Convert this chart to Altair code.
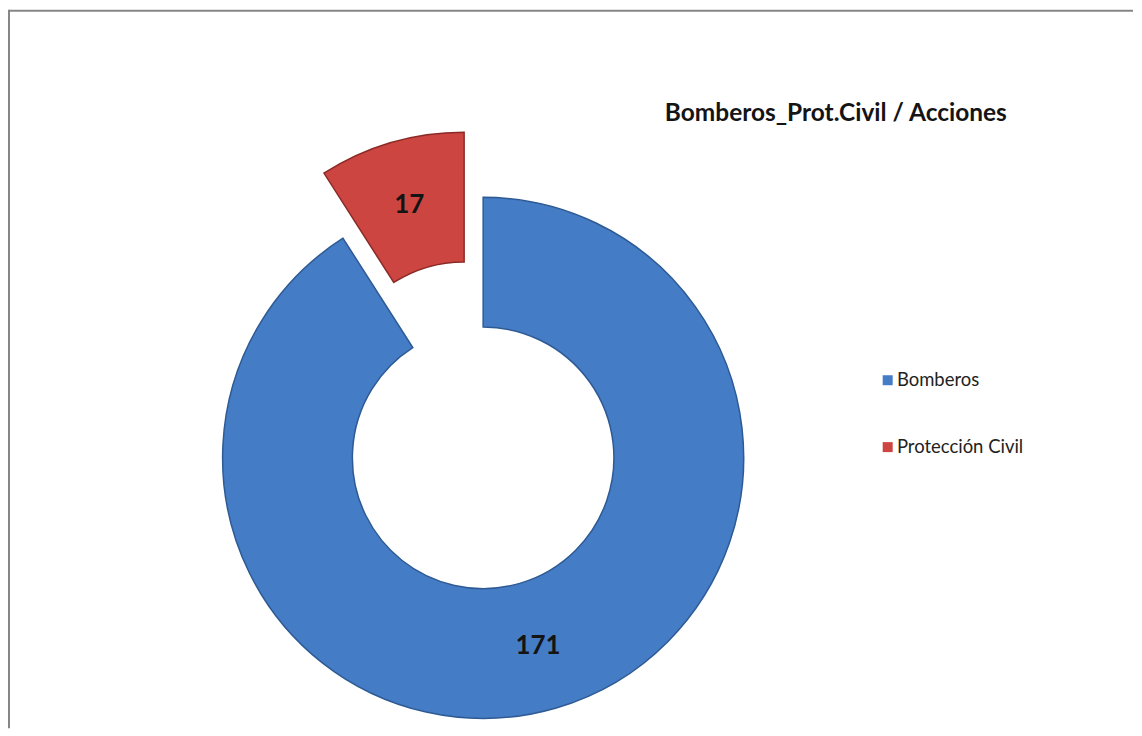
import altair as alt
import pandas as pd

# ---- data ----
categorias = ["Bomberos", "Protección Civil"]
valores = [171, 17]
orden = [1, 2]
titulo = "Bomberos_Prot.Civil / Acciones"

colores = ["#457CC6", "#CD4541"]
bordes = ["#2E5A94", "#8A2A26"]

df = pd.DataFrame({"categoria": categorias, "valor": valores, "orden": orden})

# ---- layout constants (styles / geometry) ----
W, H = 1126, 720
CX, CY = 475, 449
R_IN, R_OUT = 131, 261
EXPLODE = 68
LABEL_R = 196
FONT = "Lato"

base = (
    alt.Chart(df)
    .transform_joinaggregate(total="sum(valor)")
    .transform_window(cum="sum(valor)", sort=[alt.SortField("orden")], frame=[None, 0])
    .transform_calculate(
        t0="2*PI*(datum.cum - datum.valor)/datum.total",
        t1="2*PI*datum.cum/datum.total",
    )
    .transform_calculate(
        mid="(datum.t0 + datum.t1)/2",
        ex=f"datum.categoria == 'Protección Civil' ? {EXPLODE} : 0",
    )
    .transform_calculate(
        cx=f"{CX} + datum.ex*sin(datum.mid)",
        cy=f"{CY} - datum.ex*cos(datum.mid)",
    )
    .transform_calculate(
        lx=f"datum.cx + {LABEL_R}*sin(datum.mid)",
        ly=f"datum.cy - {LABEL_R}*cos(datum.mid)",
    )
)

arcs = base.mark_arc(innerRadius=R_IN, outerRadius=R_OUT, strokeWidth=1.5).encode(
    x=alt.X("cx:Q", scale=None, axis=None),
    y=alt.Y("cy:Q", scale=None, axis=None),
    theta=alt.Theta("t0:Q", scale=None),
    theta2="t1:Q",
    color=alt.Color(
        "categoria:N",
        scale=alt.Scale(domain=categorias, range=colores),
        legend=alt.Legend(
            title=None,
            orient="none",
            legendX=871,
            legendY=362,
            symbolType="square",
            symbolSize=100,
            symbolStrokeWidth=0,
            labelFont=FONT,
            labelFontSize=18.5,
            labelColor="#222222",
            labelOffset=0,
            rowPadding=48,
        ),
    ),
    stroke=alt.Stroke("categoria:N", scale=alt.Scale(domain=categorias, range=bordes), legend=None),
)

labels = base.mark_text(
    font=FONT, fontSize=26, fontWeight="bold", color="#141414", baseline="middle", align="center"
).encode(
    x=alt.X("lx:Q", scale=None, axis=None),
    y=alt.Y("ly:Q", scale=None, axis=None),
    text=alt.Text("valor:Q"),
)

title_layer = alt.Chart(pd.DataFrame({"t": [titulo]})).mark_text(
    font=FONT, fontSize=24.5, fontWeight="bold", color="#141414", align="left", baseline="middle"
).encode(
    x=alt.value(657),
    y=alt.value(105),
    text="t:N",
)

border_left = alt.Chart(pd.DataFrame({"a": [0]})).mark_rule(color="#868686", strokeWidth=2).encode(
    x=alt.value(0), y=alt.value(0), y2=alt.value(H)
)
border_top = alt.Chart(pd.DataFrame({"a": [0]})).mark_rule(color="#868686", strokeWidth=2).encode(
    x=alt.value(0), x2=alt.value(W), y=alt.value(1)
)

chart = (
    alt.layer(arcs, labels, title_layer, border_left, border_top)
    .properties(width=W, height=H, padding=0, background="white")
    .configure_view(stroke=None)
)

chart.save("out.html", embed_options={"renderer": "svg", "actions": False})
